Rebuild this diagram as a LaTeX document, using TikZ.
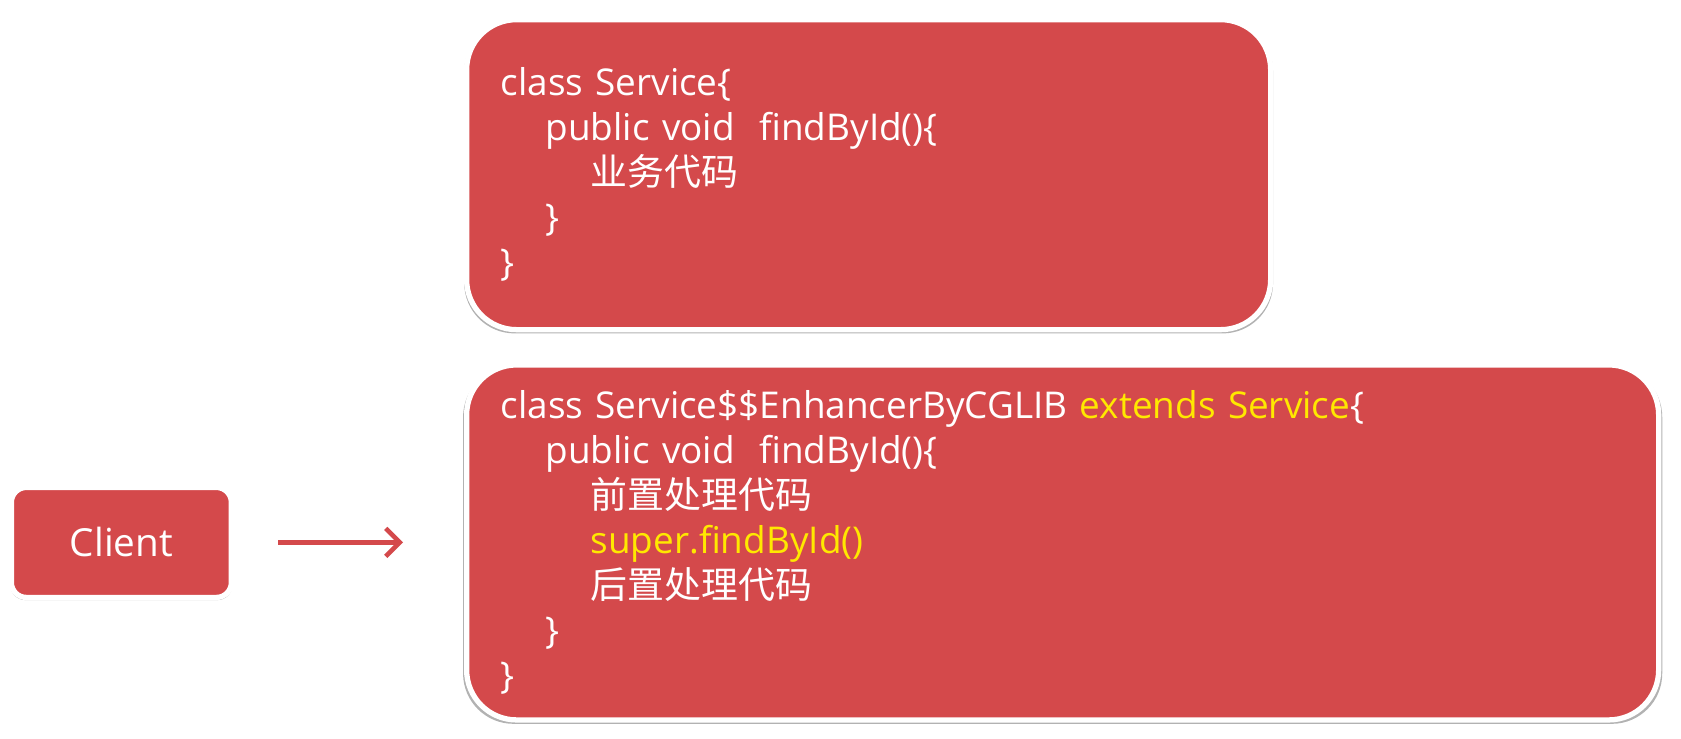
\documentclass[tikz,border=0pt]{standalone}
\usepackage{fontspec}
\setmainfont{Open Sans}
\newfontfamily\cjk{Noto Sans CJK SC}
\usepackage{xcolor}
\usepackage{tikz}
\usetikzlibrary{positioning, arrows.meta, shadows}

\begin{document}
\begin{tikzpicture}[
    >=Stealth,
    node distance=0.4cm and 2.3cm,
]

% ── Colors ──
\definecolor{boxred}{HTML}{D4494B}
\definecolor{codeyellow}{HTML}{FFE800}

\tikzset{
    codebox/.style={rectangle, rounded corners=0.5cm, draw=white, fill=boxred,
        line width=1.5pt, text=white, align=left,
        inner xsep=0.34cm, inner ysep=0pt,
        font=\fontsize{10.5}{12.8}\selectfont,
        drop shadow={shadow xshift=0pt, shadow yshift=-0.8pt, shadow scale=1.006,
            fill=black, opacity=0.3}},
    clientbox/.style={rectangle, rounded corners=0.15cm, draw=white, fill=boxred,
        line width=1.5pt, text=white, minimum width=2.2cm, minimum height=1.1cm,
        font=\fontsize{11}{13}\selectfont,
        drop shadow={shadow xshift=0pt, shadow yshift=-0.6pt, shadow scale=1.01,
            fill=black, opacity=0.3}},
}
\newcommand{\ind}{\hspace*{0.45cm}}

% ══════════════════════════════════════════════
% Canvas
% ══════════════════════════════════════════════
\useasboundingbox[fill=white] (0,0) rectangle (16.81,-7.38);

% ══════════════════════════════════════════════
% Original class
% ══════════════════════════════════════════════
\node[codebox, text width=7.36cm, minimum height=3.1cm, anchor=north west]
    (svc) at (4.64,-0.17)
    {class Service\{\\
     \ind public void\ \ findById()\{\\
     \ind\ind {\cjk 业务代码}\\
     \ind \}\\
     \}};

% ══════════════════════════════════════════════
% Proxy subclass
% ══════════════════════════════════════════════
\node[codebox, text width=11.24cm, minimum height=3.55cm,
    below=0.3cm of svc.south west, anchor=north west] (proxy)
    {class Service\$\$EnhancerByCGLIB \textcolor{codeyellow}{extends Service}\{\\
     \ind public void\ \ findById()\{\\
     \ind\ind {\cjk 前置处理代码}\\
     \ind\ind \textcolor{codeyellow}{super.findById()}\\
     \ind\ind {\cjk 后置处理代码}\\
     \ind \}\\
     \}};

% ══════════════════════════════════════════════
% Client and call arrow
% ══════════════════════════════════════════════
\node[clientbox, left=2.3cm of proxy.west] (client) {Client};

\draw[-{Straight Barb[length=0.14cm, width=0.28cm]}, line width=1.3pt, boxred,
    shorten <=0.44cm, shorten >=0.61cm] (client.east) -- (proxy.west);

\end{tikzpicture}
\end{document}
